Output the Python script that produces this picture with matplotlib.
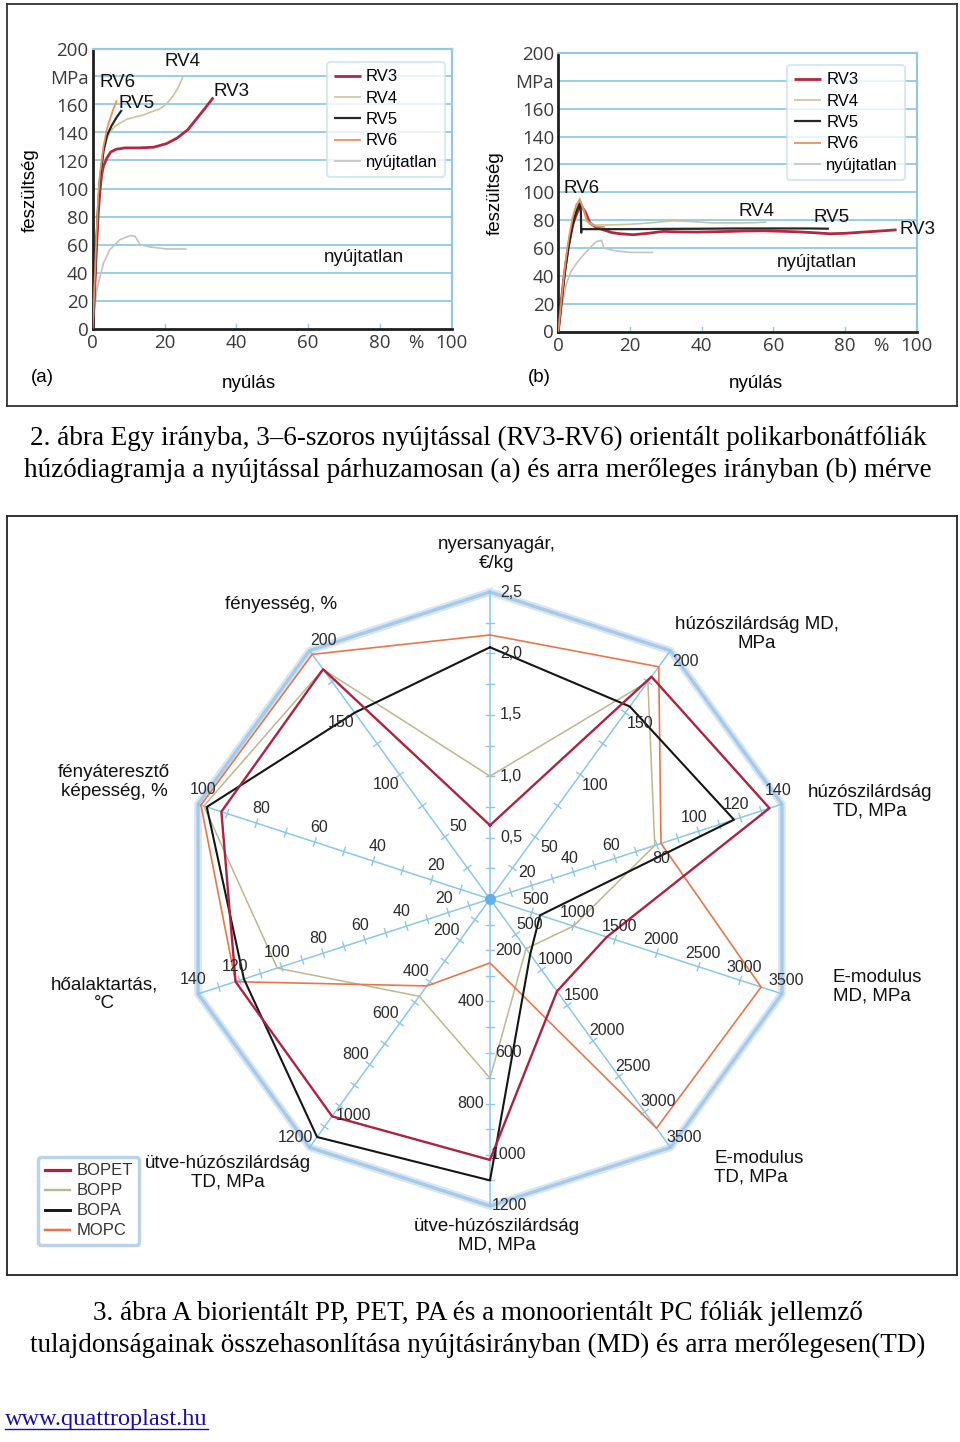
import numpy as np
import matplotlib
matplotlib.use("Agg")
import matplotlib.pyplot as plt
from matplotlib.lines import Line2D

# ------------------------------------------------------------------ data
# Fig. 2 (a): stress-strain curves, strain in %, stress in MPa
a_rv3_x = [0, 0.5, 1, 1.5, 2, 2.5, 3, 4, 5, 6.5, 9, 13, 17, 20.5, 23.5, 26.5, 29, 31.5, 33.6]
a_rv3_y = [0, 25, 55, 80, 98, 110, 116, 122, 126, 128, 129, 129, 129.5, 132, 136, 142, 150, 158, 165]
a_rv4_x = [0, 0.5, 1, 1.5, 2, 3, 4, 5, 6.5, 9.5, 14, 18.8, 20.6, 22.5, 24, 25.3]
a_rv4_y = [0, 27, 58, 85, 104, 125, 136, 141, 145, 149.5, 152.5, 157, 160.5, 166.5, 173, 181]
a_rv5_x = [0, 0.5, 1, 1.5, 2, 3, 4, 5.3, 6.7, 8.1]
a_rv5_y = [0, 28, 60, 87, 106, 127, 138, 145, 151, 156]
a_rv6_x = [0, 0.5, 1, 1.5, 2, 3, 4, 5, 5.8, 6.7]
a_rv6_y = [0, 30, 64, 92, 110, 130, 143, 151, 157, 163]
a_ny_x = [0, 1.1, 3, 4.8, 7.6, 10.4, 11.8, 13.2, 16, 20.6, 26.2]
a_ny_y = [0, 27.5, 46.7, 56.3, 63.5, 66.3, 65.9, 59.9, 58.2, 56.8, 56.8]

# Fig. 2 (b)
b_rv3_x = [0, 0.7, 1.4, 2.1, 2.8, 3.5, 4.2, 4.9, 5.6, 6.5, 7.5, 8.8, 10.5, 12.6, 15, 17.2, 20.9,
           25, 29.3, 34, 38.6, 43, 47.9, 52, 57.2, 62, 66.5, 71, 75.8, 80, 85.1, 90, 94.4]
b_rv3_y = [0, 18, 35, 49, 61, 70, 78, 83, 87.4, 89.8, 86, 78, 75, 73, 71, 70.2, 69.5,
           70.5, 71.9, 71.5, 71.4, 71.6, 71.9, 72.2, 72.3, 72, 71.6, 71, 70.2, 70.5, 71.4, 72.2, 73]
b_rv4_x = [0, 1, 2, 3, 4, 5, 6, 7, 7.9, 10, 15.3, 20, 24.7, 28, 32, 37, 43, 48, 52.5, 56, 58]
b_rv4_y = [0, 25, 48, 65, 80, 89, 95.8, 88, 79, 76.5, 76.6, 77, 77.8, 78.6, 79.5, 79, 78, 78, 78, 78.3, 78.6]
b_rv5_x = [0, 1, 2, 3, 4, 5, 6, 6.3, 6.4, 6.4, 10, 20, 30, 40, 50, 60, 70, 75.5]
b_rv5_y = [0, 24, 46, 63, 77, 86, 92, 86, 71, 73.5, 73.5, 73.5, 73.7, 73.8, 74, 74, 74, 73.8]
b_rv6_x = [0, 1, 2, 3, 4, 5, 6, 7, 8, 9, 10.7, 13]
b_rv6_y = [0, 26, 50, 68, 82, 91, 94.6, 88, 80, 77, 75.4, 75]
b_ny_x = [0, 1, 2.3, 3.5, 5.1, 6.5, 7.9, 9.3, 10.7, 12.1, 12.7, 15.3, 20, 26.5]
b_ny_y = [0, 18, 34.7, 43, 49, 53.5, 57.5, 61.5, 64.7, 65.4, 59.9, 58.2, 56.8, 56.8]

curve_names = ["RV3", "RV4", "RV5", "RV6", "nyújtatlan"]
strain_yticks = [0, 20, 40, 60, 80, 100, 120, 140, 160, 180, 200]
strain_ylabels = ["0", "20", "40", "60", "80", "100", "120", "140", "160", "MPa", "200"]
strain_xticks = [0, 20, 40, 60, 80, 90, 100]
strain_xlabels = ["0", "20", "40", "60", "80", "%", "100"]

# Fig. 3: radar chart (clockwise from top)
radar_titles = ["nyersanyagár,\n€/kg", "húzószilárdság MD,\nMPa", "húzószilárdság\nTD, MPa",
                "E-modulus\nMD, MPa", "E-modulus\nTD, MPa", "ütve-húzószilárdság\nMD, MPa",
                "ütve-húzószilárdság\nTD, MPa", "hőalaktartás,\n°C", "fényáteresztő\nképesség, %",
                "fényesség, %"]
radar_max = [2.5, 200, 140, 3500, 3500, 1200, 1200, 140, 100, 200]
radar_tick_step = [0.25, 25, 10, 500, 500, 100, 100, 10, 10, 25]
radar_labels = [
    [0.5, 1.0, 1.5, 2.0, 2.5],
    [50, 100, 150, 200],
    [20, 40, 60, 80, 100, 120, 140],
    [500, 1000, 1500, 2000, 2500, 3000, 3500],
    [500, 1000, 1500, 2000, 2500, 3000, 3500],
    [200, 400, 600, 800, 1000, 1200],
    [200, 400, 600, 800, 1000, 1200],
    [20, 40, 60, 80, 100, 120, 140],
    [20, 40, 60, 80, 100],
    [50, 100, 150, 200],
]
series_names = ["BOPET", "BOPP", "BOPA", "MOPC"]
bopet = [0.6, 179, 134, 1400, 1300, 1020, 1050, 122, 92, 185]
bopp = [1.0, 175, 79, 1000, 700, 700, 470, 102, 98, 185]
bopa = [2.05, 155, 117, 600, 780, 1100, 1150, 118, 97, 150]
mopc = [2.15, 187, 82, 3250, 3230, 250, 420, 122, 99, 197]

# ------------------------------------------------------------------ styles
W, H = 960, 1442
SANS = ["Liberation Sans", "DejaVu Sans"]
NARROW = ["Liberation Sans Narrow", "Liberation Sans", "DejaVu Sans"]
TICKF = ["Open Sans", "DejaVu Sans"]
SERIF = ["Liberation Serif", "DejaVu Serif"]
GRID = "#93c9e1"
C_RV = {"RV3": "#b3283f", "RV4": "#c9c49a", "RV5": "#262626", "RV6": "#e8925f", "nyújtatlan": "#c3c3c3"}
LW_RV = {"RV3": 2.0, "RV4": 1.2, "RV5": 1.6, "RV6": 1.3, "nyújtatlan": 1.2}
C_S = {"BOPET": "#ad2240", "BOPP": "#bdb78f", "BOPA": "#151515", "MOPC": "#e8764c"}
LW_S = {"BOPET": 1.7, "BOPP": 1.1, "BOPA": 1.5, "MOPC": 1.2}
AXBLUE = "#8cc6e8"

fig = plt.figure(figsize=(W / 100, H / 100), dpi=100)
fig.patch.set_facecolor("white")


def pxbox(l, t, r, b):
    return [l / W, 1 - b / H, (r - l) / W, (b - t) / H]


def fyy(py):
    return 1 - py / H


# ------------------------------------------------------------------ Fig 2 frame
frame1 = fig.add_axes(pxbox(7, 4, 957, 406))
frame1.set_xticks([]); frame1.set_yticks([])
for s in frame1.spines.values():
    s.set_color("#333333"); s.set_linewidth(1.3)


def strain_axes(rect, datasets, labels_pos, legend_anchor):
    ax = fig.add_axes(rect)
    ax.set_facecolor("none")
    ax.set_xlim(0, 100); ax.set_ylim(0, 200)
    for v in range(20, 201, 20):
        ax.axhline(v, color=GRID, lw=1.3, zorder=0)
    for v in (20, 40, 60, 80):
        ax.plot([v, v], [0, 3], color=GRID, lw=1.0, zorder=0)
    handles = []
    for name, (xs, ys) in zip(curve_names, datasets):
        ln, = ax.plot(xs, ys, color=C_RV[name], lw=LW_RV[name], label=name,
                      zorder=3 if name != "nyújtatlan" else 2, solid_capstyle="butt")
        handles.append(ln)
    ax.set_yticks(strain_yticks); ax.set_yticklabels(strain_ylabels)
    ax.set_xticks(strain_xticks); ax.set_xticklabels(strain_xlabels)
    ax.tick_params(length=0, labelsize=13.5, labelcolor="#3a3a3a")
    ax.tick_params(axis="x", pad=4)
    ax.tick_params(axis="y", pad=3)
    for lab in ax.get_xticklabels() + ax.get_yticklabels():
        lab.set_family(TICKF)
    for side in ("left", "bottom"):
        ax.spines[side].set_color("#1e1e1e"); ax.spines[side].set_linewidth(2.0)
    for side in ("top", "right"):
        ax.spines[side].set_color(GRID); ax.spines[side].set_linewidth(1.6)
    for txt, (x, y) in labels_pos:
        ax.text(x, y, txt, ha="center", va="center", fontsize=13.5, family=SANS, color="#111111")
    leg = ax.legend(handles=handles, loc="upper left", bbox_to_anchor=legend_anchor,
                    prop={"family": SANS, "size": 12}, handlelength=1.6, handletextpad=0.3,
                    labelspacing=0.38, borderpad=0.45, frameon=True, fancybox=True,
                    borderaxespad=0)
    leg.get_frame().set_edgecolor("#cfe4f1"); leg.get_frame().set_linewidth(1.5)
    leg.get_frame().set_facecolor("white")
    return ax


ax_a = strain_axes(pxbox(92.7, 48.5, 451.7, 328.5),
                   [(a_rv3_x, a_rv3_y), (a_rv4_x, a_rv4_y), (a_rv5_x, a_rv5_y),
                    (a_rv6_x, a_rv6_y), (a_ny_x, a_ny_y)],
                   [("RV6", (6.8, 176)), ("RV5", (12.1, 161)), ("RV4", (25.1, 190.5)),
                    ("RV3", (38.8, 169.6)), ("nyújtatlan", (75.5, 50.4))],
                   (0.652, 0.952))
ax_b = strain_axes(pxbox(558.3, 53, 916.7, 331.5),
                   [(b_rv3_x, b_rv3_y), (b_rv4_x, b_rv4_y), (b_rv5_x, b_rv5_y),
                    (b_rv6_x, b_rv6_y), (b_ny_x, b_ny_y)],
                   [("RV6", (6.6, 103)), ("RV4", (55.2, 86.5)), ("RV5", (76.3, 82.2)),
                    ("RV3", (100.3, 73.6)), ("nyújtatlan", (72.2, 49.9))],
                   (0.638, 0.957))

fig.text(30 / W, fyy(190), "feszültség", rotation=90, ha="center", va="center",
         family=SANS, fontsize=13.5)
fig.text(495 / W, fyy(193), "feszültség", rotation=90, ha="center", va="center",
         family=SANS, fontsize=13.5)
fig.text(249 / W, fyy(384), "nyúlás", ha="center", va="center", family=SANS, fontsize=13.5)
fig.text(756 / W, fyy(384), "nyúlás", ha="center", va="center", family=SANS, fontsize=13.5)
fig.text(42 / W, fyy(377), "(a)", ha="center", va="center", family=SANS, fontsize=13.5)
fig.text(539 / W, fyy(377), "(b)", ha="center", va="center", family=SANS, fontsize=13.5)

fig.text(478 / W, fyy(438),
         "2. ábra Egy irányba, 3–6-szoros nyújtással (RV3-RV6) orientált polikarbonátfóliák",
         ha="center", va="center", family=SERIF, fontsize=19.5)
fig.text(478 / W, fyy(470),
         "húzódiagramja a nyújtással párhuzamosan (a) és arra merőleges irányban (b) mérve",
         ha="center", va="center", family=SERIF, fontsize=19.5)

# ------------------------------------------------------------------ Fig 3 radar
CX, CY, RP = 490, 899, 307
rax = fig.add_axes(pxbox(7, 516, 957, 1275))
rax.set_xlim((7 - CX) / RP, (957 - CX) / RP)
rax.set_ylim((CY - 1275) / RP, (CY - 516) / RP)
rax.set_xticks([]); rax.set_yticks([])
for s in rax.spines.values():
    s.set_color("#222222"); s.set_linewidth(1.3)


def p2d(px, py):
    return (px - CX) / RP, (CY - py) / RP


n = len(radar_max)
theta = np.deg2rad(90 - 36 * np.arange(n))
ux, uy = np.cos(theta), np.sin(theta)

# outer decagon
rax.plot(np.append(ux, ux[0]), np.append(uy, uy[0]), color="#d6e6f4", lw=5.5,
         solid_joinstyle="round", zorder=1)
rax.plot(np.append(ux, ux[0]), np.append(uy, uy[0]), color="#a9cae6", lw=2.4,
         solid_joinstyle="round", zorder=2)

# spokes, ticks, labels
tick_half = 0.014
label_side = [
    [-1] * 5, [-1] * 4, [1, 1, 1, -1, 1, 1, 1], [1] * 7, [1] * 7,
    [1, -1, 1, -1, 1, 1], [-1, -1, -1, -1, 1, -1], [-1] * 7, [-1] * 5, [-1, 1, 1, -1],
]
label_off = [21, 18, 14, 14, 17, 19, 17, 15, 15, 17]
for k in range(n):
    rax.plot([0, ux[k]], [0, uy[k]], color=AXBLUE, lw=1.1, zorder=3)
    px_, py_ = -uy[k], ux[k]
    step = radar_tick_step[k]
    nt = int(round(radar_max[k] / step))
    for j in range(1, nt):
        r = j * step / radar_max[k]
        rax.plot([r * ux[k] - tick_half * px_, r * ux[k] + tick_half * px_],
                 [r * uy[k] - tick_half * py_, r * uy[k] + tick_half * py_],
                 color=AXBLUE, lw=1.0, zorder=3)
    for v, sd in zip(radar_labels[k], label_side[k]):
        r = v / radar_max[k]
        off = label_off[k] / RP
        tx = r * ux[k] + sd * off * px_
        ty = r * uy[k] + sd * off * py_
        txt = (f"{v:.1f}".replace(".", ",")) if k == 0 else f"{int(v)}"
        rax.text(tx, ty, txt, ha="center", va="center", fontsize=11.5, family=NARROW,
                 color="#2a2a2a", zorder=6)
rax.plot([0], [0], "o", color="#63b2e6", ms=7, zorder=4)

# series
series = {"BOPET": bopet, "BOPP": bopp, "BOPA": bopa, "MOPC": mopc}
for name in ["BOPP", "MOPC", "BOPA", "BOPET"]:
    r = np.array(series[name]) / np.array(radar_max)
    xs, ys = r * ux, r * uy
    rax.plot(np.append(xs, xs[0]), np.append(ys, ys[0]), color=C_S[name], lw=LW_S[name],
             zorder=5)

# axis titles
title_pos = [(497, 554), (757, 634), (870, 802), (833, 987), (714, 1168), (497, 1236),
             (228, 1173), (104, 994), (114, 782), (281, 604)]
title_ha = ["center", "center", "center", "left", "left", "center", "center", "center",
            "center", "center"]
for t, (px, py), ha in zip(radar_titles, title_pos, title_ha):
    x, y = p2d(px, py)
    rax.text(x, y, t, ha=ha, va="center", multialignment="center" if ha == "center" else "left",
             fontsize=13.5, family=SANS, color="#111111", linespacing=1.1, zorder=6)

handles = [Line2D([], [], color=C_S[nm], lw=LW_S[nm] + 0.6) for nm in series_names]
leg = rax.legend(handles, series_names, loc="lower left", bbox_to_anchor=((38 - 7) / 950, (1275 - 1245) / 759),
                 borderaxespad=0, prop={"family": NARROW, "size": 12}, handlelength=1.5,
                 handletextpad=0.4, labelspacing=0.3, borderpad=0.4, fancybox=True)
leg.get_frame().set_edgecolor("#a9c8e4"); leg.get_frame().set_linewidth(2.5)
for t in leg.get_texts():
    t.set_color("#333333")

fig.text(478 / W, fyy(1313),
         "3. ábra A biorientált PP, PET, PA és a monoorientált PC fóliák jellemző",
         ha="center", va="center", family=SERIF, fontsize=19.5)
fig.text(478 / W, fyy(1345),
         "tulajdonságainak összehasonlítása nyújtásirányban (MD) és arra merőlegesen(TD)",
         ha="center", va="center", family=SERIF, fontsize=19.5)

url = fig.text(5 / W, fyy(1420), "www.quattroplast.hu", ha="left", va="center",
               family=SERIF, fontsize=17.5, color="#1a0dab")
fig.canvas.draw()
bb = url.get_window_extent()
fig.add_artist(Line2D([bb.x0 / W, bb.x1 / W], [(bb.y0 + 2) / H, (bb.y0 + 2) / H],
                      color="#1a0dab", lw=1.0, transform=fig.transFigure))

fig.savefig("out.png", dpi=100, facecolor="white")
